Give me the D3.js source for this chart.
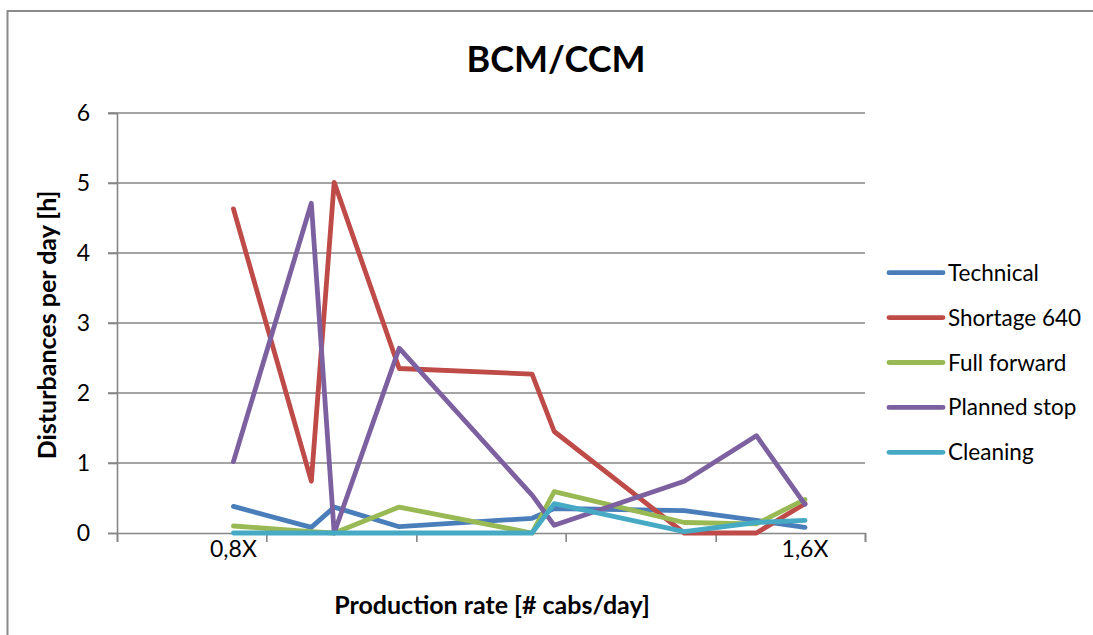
<!DOCTYPE html>
<html>
<head>
<meta charset="utf-8">
<script src="https://cdn.jsdelivr.net/npm/d3@7"></script>
<style>
  html, body { margin: 0; padding: 0; background: #ffffff; }
  svg { display: block; }
  text { font-family: Lato, "Open Sans", "Noto Sans", sans-serif; fill: #000; }
</style>
</head>
<body>
<svg id="chart" width="1093" height="635"></svg>
<script>
// Production rate (relative to nominal X) for each measurement
const rates = [0.800, 0.909, 0.941, 1.032, 1.218, 1.249, 1.431, 1.532, 1.600];

// Disturbance hours per day, one array per cause
const technical    = [0.38, 0.08, 0.37, 0.09, 0.21, 0.35, 0.32, 0.18, 0.08];
const shortage640  = [4.63, 0.74, 5.01, 2.35, 2.27, 1.45, 0.00, 0.00, 0.42];
const fullForward  = [0.10, 0.02, 0.00, 0.37, 0.00, 0.59, 0.15, 0.13, 0.48];
const plannedStop  = [1.02, 4.71, 0.00, 2.64, 0.54, 0.11, 0.74, 1.39, 0.41];
const cleaning     = [0.00, 0.00, 0.00, 0.00, 0.00, 0.42, 0.02, 0.15, 0.18];

const seriesNames  = ["Technical", "Shortage 640", "Full forward", "Planned stop", "Cleaning"];
const seriesValues = [technical, shortage640, fullForward, plannedStop, cleaning];
const seriesColors = ["#4A7EBB", "#BE4B48", "#98B954", "#7D60A0", "#46AAC5"];

// Axis settings
const xAxisDomain   = [0.637, 1.684];
const xAxisTicks    = [0.637, 0.846, 1.056, 1.265, 1.475, 1.684];
const xLabelValues  = [0.8, 1.6];
const xLabelTexts   = ["0,8X", "1,6X"];
const yAxisTicks    = [0, 1, 2, 3, 4, 5, 6];

const svg = d3.select("#chart");
const grid = "#868686";

// Chart frame
svg.append("rect")
  .attr("x", 7.5).attr("y", 11)
  .attr("width", 1120).attr("height", 660)
  .attr("fill", "none").attr("stroke", "#8a8a8a").attr("stroke-width", 2);

const plot = { left: 117, right: 865, top: 113, bottom: 533 };

const x = d3.scaleLinear().domain(xAxisDomain).range([plot.left, plot.right]);
const y = d3.scaleLinear().domain([0, 6]).range([plot.bottom, plot.top]);

// Horizontal gridlines
svg.append("g")
  .selectAll("line")
  .data(yAxisTicks.filter(d => d > 0))
  .join("line")
  .attr("x1", plot.left - 9).attr("x2", plot.right)
  .attr("y1", d => y(d)).attr("y2", d => y(d))
  .attr("stroke", grid).attr("stroke-width", 1.6);

// Y axis
const yAxis = svg.append("g")
  .attr("transform", `translate(${plot.left},0)`)
  .call(d3.axisLeft(y).tickValues(yAxisTicks).tickSize(9).tickPadding(18).tickFormat(d3.format("d")));
yAxis.select(".domain").attr("stroke", grid).attr("stroke-width", 1.6);
yAxis.selectAll(".tick line").attr("stroke", grid).attr("stroke-width", 1.6);
yAxis.selectAll(".tick text")
  .attr("font-family", "Lato, sans-serif")
  .attr("font-size", 23)
  .attr("fill", "#000");

// X axis (ticks only, labels placed at the 0,8X and 1,6X rates)
const xAxis = svg.append("g")
  .attr("transform", `translate(0,${plot.bottom})`)
  .call(d3.axisBottom(x).tickValues(xAxisTicks).tickSize(9).tickFormat(""));
xAxis.select(".domain").attr("stroke", grid).attr("stroke-width", 1.6);
xAxis.selectAll(".tick line").attr("stroke", grid).attr("stroke-width", 1.6);

svg.append("g")
  .selectAll("text")
  .data(xLabelValues)
  .join("text")
  .attr("x", d => x(d))
  .attr("y", 557)
  .attr("text-anchor", "middle")
  .attr("font-size", 23)
  .text((d, i) => xLabelTexts[i]);

// Series lines
const line = d3.line()
  .x((d, i) => x(rates[i]))
  .y(d => y(d));

svg.append("g")
  .selectAll("path")
  .data(seriesValues)
  .join("path")
  .attr("d", d => line(d))
  .attr("fill", "none")
  .attr("stroke", (d, i) => seriesColors[i])
  .attr("stroke-width", 4.8)
  .attr("stroke-linejoin", "round")
  .attr("stroke-linecap", "round");

// Title
svg.append("text")
  .attr("x", 556).attr("y", 72)
  .attr("text-anchor", "middle")
  .attr("font-size", 36)
  .attr("font-weight", "bold")
  .text("BCM/CCM");

// Axis titles
svg.append("text")
  .attr("x", 492).attr("y", 614)
  .attr("text-anchor", "middle")
  .attr("font-size", 25)
  .attr("font-weight", "bold")
  .text("Production rate [# cabs/day]");

svg.append("text")
  .attr("transform", "translate(56,325) rotate(-90)")
  .attr("text-anchor", "middle")
  .attr("font-size", 25)
  .attr("font-weight", "bold")
  .text("Disturbances per day [h]");

// Legend
const legend = svg.append("g")
  .selectAll("g")
  .data(seriesNames)
  .join("g")
  .attr("transform", (d, i) => `translate(889,${272.7 + i * 44.9})`);

legend.append("line")
  .attr("x1", 0).attr("x2", 54)
  .attr("y1", 0).attr("y2", 0)
  .attr("stroke", (d, i) => seriesColors[i])
  .attr("stroke-width", 4.8)
  .attr("stroke-linecap", "round");

legend.append("text")
  .attr("x", 59).attr("y", 8)
  .attr("font-size", 22.5)
  .text(d => d);
</script>
</body>
</html>
